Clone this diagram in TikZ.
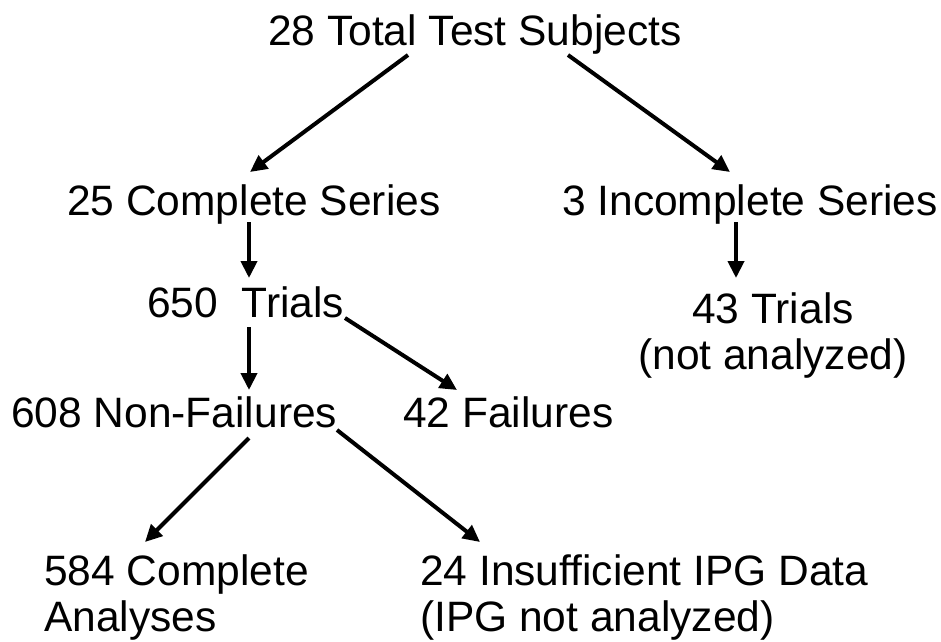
\documentclass[tikz,border=0pt]{standalone}
\usepackage{fontspec}
\setmainfont{Liberation Sans}
\usetikzlibrary{arrows.meta}
\begin{document}
\begin{tikzpicture}[x=1pt,y=-1pt,
  lbl/.style={inner sep=0pt,font=\fontsize{42.5}{46}\selectfont},
  arr/.style={line width=4pt,-{Triangle[length=17pt,width=16pt]}}]
\useasboundingbox (0,0) rectangle (941,641);
\node[lbl,anchor=base west] (top) at (268,45) {28 Total Test Subjects};
\node[lbl,anchor=base west] (cs) at (67,215) {25 Complete Series};
\node[lbl,anchor=base west] (is) at (562,215) {3 Incomplete Series};
\node[lbl,anchor=base west] (tr) at (147,317) {650~~Trials};
\node[lbl,anchor=north,align=center] (nt) at (773,292) {43 Trials\\(not analyzed)};
\node[lbl,anchor=base west] (nf) at (11,427) {608 Non-Failures};
\node[lbl,anchor=base west] (fl) at (403,427) {42 Failures};
\node[lbl,anchor=north west,align=left] (ca) at (44,554) {584 Complete\\Analyses};
\node[lbl,anchor=north west,align=left] (ip) at (420,554) {24 Insufficient IPG Data\\(IPG not analyzed)};
% connector end points
\coordinate (a1s) at (408,55);  \coordinate (a1e) at (250,172);
\coordinate (a2s) at (568,55);  \coordinate (a2e) at (730,172);
\coordinate (a3s) at (249,222); \coordinate (a3e) at (249,278);
\coordinate (a4s) at (736,222); \coordinate (a4e) at (736,278);
\coordinate (a5s) at (249,327); \coordinate (a5e) at (249,390);
\coordinate (a6s) at (345,318); \coordinate (a6e) at (457,390);
\coordinate (a7s) at (249,438); \coordinate (a7e) at (145,542);
\coordinate (a8s) at (337,430); \coordinate (a8e) at (480,542);
\draw[arr] (a1s) -- (a1e);
\draw[arr] (a2s) -- (a2e);
\draw[arr] (a3s) -- (a3e);
\draw[arr] (a4s) -- (a4e);
\draw[arr] (a5s) -- (a5e);
\draw[arr] (a6s) -- (a6e);
\draw[arr] (a7s) -- (a7e);
\draw[arr] (a8s) -- (a8e);
\end{tikzpicture}
\end{document}
